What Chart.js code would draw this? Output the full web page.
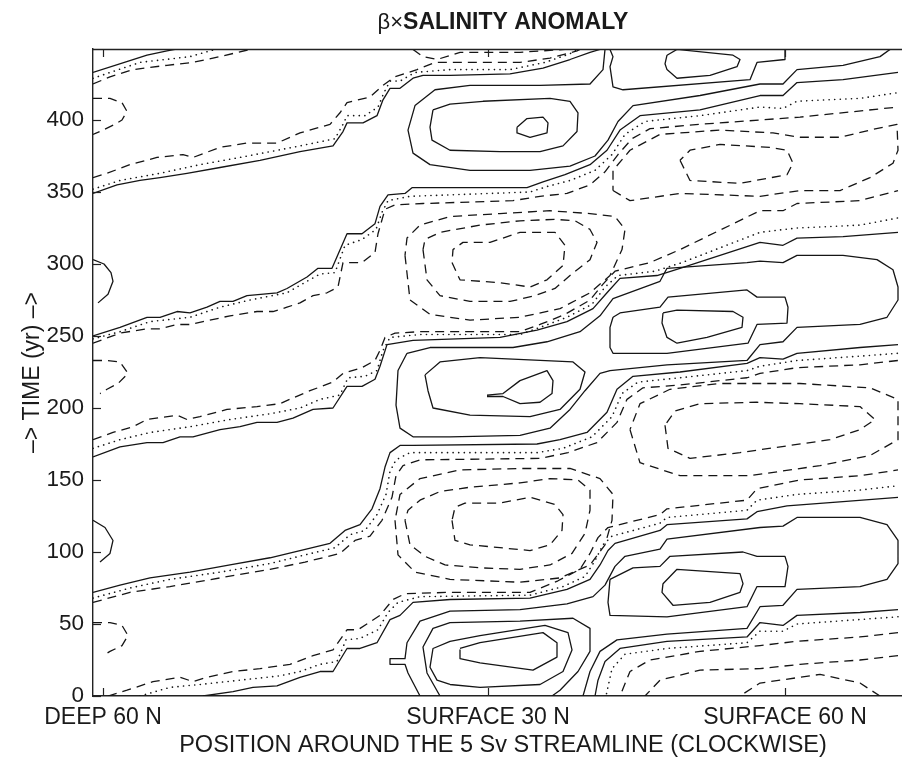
<!DOCTYPE html>
<html><head><meta charset="utf-8">
<script src="https://cdn.jsdelivr.net/npm/chart.js@4.4.1/dist/chart.umd.min.js"></script>
<style>
html,body{margin:0;padding:0;overflow:hidden;background:#fff;width:902px;height:758px}
#wrap{position:relative;width:925px;height:758px}
</style></head>
<body><div id="wrap"><canvas id="c" width="925" height="758"></canvas></div>
<script>
// ---- axis data ----
const yTickValues = [0, 50, 100, 150, 200, 250, 300, 350, 400];
const yRange = [0, 449.3];
const xRange = [0, 820];           // position index along the streamline
const xTickPos = [10, 395, 692];
const xTickLabels = ['DEEP 60 N', 'SURFACE 30 N', 'SURFACE 60 N'];

// ---- contour lines: [position, year] ----
// bottom period
const p0Dash1 = [[15,0],[34,4],[60,10],[87,13],[100,10],[114,13],[140,17],[167,19],[197,22],[220,28],[240,32],[254,46],[265,46],[287,56],[300,67],[312,71],[357,72],[437,72],[465,80],[487,88],[497,99],[505,110],[515,117],[567,126],[574,130],[654,136],[664,144],[707,150],[767,153],[805,157]];
const p0Zero = [[47,0],[77,6],[107,8],[147,11],[187,14],[207,17],[227,22],[244,24],[253,39],[267,40],[285,46],[295,58],[305,65],[327,69],[437,70],[470,76],[492,83],[502,94],[510,105],[519,111],[567,120],[574,124],[654,129],[664,136],[704,140],[767,143],[805,146]];
const p0Pos1 = [[110,0],[140,3],[160,6],[184,7],[207,13],[227,17],[240,17],[254,33],[267,33],[284,37],[297,53],[307,56],[320,65],[357,67],[437,68],[474,74],[497,81],[507,91],[515,101],[522,106],[567,115],[574,119],[654,123],[664,128],[694,132],[750,135],[805,138]];
const p0Pos2 = [[327,0],[315,16],[312,22],[297,22],[297,26],[312,26],[314,37],[327,52],[357,59],[427,60],[474,64],[500,69],[512,77],[522,90],[532,97],[567,102],[574,109],[667,117],[690,118],[704,124],[767,124],[794,119],[805,108],[805,92],[794,81],[767,76],[704,74],[690,63],[667,62],[654,47],[574,43],[524,39],[507,31],[497,17],[490,0]];
const p0Cell30a = [[347,0],[334,16],[330,34],[340,47],[357,51],[427,52],[480,54],[497,47],[497,31],[485,17],[467,4],[459,0]];
const p0Cell30b = [[357,8],[344,11],[337,20],[340,33],[357,38],[387,42],[452,49],[475,44],[479,32],[470,17],[447,8],[387,6],[357,8]];
const p0Cell30c = [[367,32],[367,26],[387,23],[440,18],[464,27],[464,37],[450,44],[387,37],[367,33]];
const p0Cell60a = [[517,81],[540,89],[567,90],[577,97],[650,100],[664,97],[692,97],[695,90],[692,76],[664,76],[654,62],[574,55],[517,56],[515,65],[517,81]];
const p0Cell60b = [[570,78],[584,88],[647,85],[650,78],[647,72],[617,65],[580,63],[569,72],[570,78]];
const p0Pos1Low = [[805,60],[767,58],[704,56],[690,49],[667,51],[654,41],[574,38],[527,33],[512,24],[505,11],[502,0]];
const p0ZeroLow = [[805,55],[704,50],[690,45],[667,45],[654,37],[574,33],[532,29],[519,19],[513,0]];
const p0NegLow1 = [[805,44],[767,41],[704,38],[667,35],[607,31],[557,25],[537,17],[527,0]];
const p0NegLow2 = [[805,28],[767,25],[707,22],[667,19],[607,18],[567,11],[552,0]];
const p0NegLow3 = [[787,0],[767,9],[727,15],[667,9],[647,0]];
const edgeArc50 = [[0,51],[17,51],[29,49],[35,42],[29,35],[17,31],[10,28]];
const neg30a = [[359,122],[362,108],[377,105],[407,103],[437,101],[457,105],[469,115],[470,126],[462,133],[437,138],[407,134],[372,134],[362,131],[359,122]];
const neg30b = [[312,122],[317,105],[332,97],[352,91],[387,89],[427,88],[457,91],[479,99],[492,113],[497,129],[497,143],[485,150],[457,151],[427,148],[377,145],[347,142],[327,136],[315,129],[312,122]];
const neg30c = [[302,122],[305,98],[322,86],[357,81],[427,79],[467,82],[497,91],[512,105],[519,122],[520,140],[507,151],[477,158],[427,158],[367,157],[327,151],[307,140],[302,122]];
const neg60a = [[572,188],[575,172],[597,165],[647,169],[697,174],[737,178],[767,185],[782,192],[767,201],[707,203],[664,204],[607,203],[582,198],[572,188]];
const neg60b = [[537,185],[547,162],[587,153],[657,153],[727,160],[777,167],[805,178],[805,206],[777,214],[707,217],[627,217],[577,213],[547,203],[537,185]];

// middle period
const p1PosUp = [[0,166],[27,173],[54,176],[70,176],[87,180],[100,180],[127,185],[147,187],[164,190],[184,190],[200,193],[220,199],[240,200],[254,215],[269,215],[282,220],[287,229],[294,244],[320,247],[407,249],[444,254],[474,260],[500,269],[514,280],[527,290],[564,292],[587,297],[667,315],[690,313],[704,318],[750,319],[805,322]];
const p1ZeroUp = [[0,172],[27,178],[57,183],[97,187],[137,192],[177,196],[207,200],[227,206],[247,209],[255,221],[272,222],[284,226],[290,240],[297,249],[327,251],[427,251],[447,256],[474,263],[499,272],[512,284],[525,292],[562,295],[589,301],[667,322],[704,325],[767,327],[805,332]];
const p1NegUp = [[0,178],[20,183],[40,187],[54,192],[84,195],[94,192],[107,194],[134,199],[164,201],[187,203],[200,207],[217,212],[240,218],[250,224],[269,228],[282,233],[287,240],[292,249],[302,252],[327,253],[427,253],[447,258],[472,265],[497,275],[510,286],[522,295],[557,301],[587,310],[667,337],[690,337],[704,342],[767,344],[805,351]];
const p1PosLow = [[0,72],[27,77],[57,82],[97,86],[137,91],[177,96],[207,101],[237,106],[252,115],[267,119],[279,130],[287,144],[292,159],[297,169],[307,174],[320,174],[444,175],[467,178],[494,183],[514,197],[524,213],[540,222],[587,225],[654,231],[667,235],[690,234],[704,238],[767,242],[805,244]];
const p1ZeroLow = [[0,68],[37,75],[77,81],[127,86],[177,92],[212,98],[242,103],[257,112],[272,115],[284,126],[293,140],[297,156],[303,164],[317,169],[444,169],[470,172],[499,180],[519,194],[529,210],[545,218],[587,221],[654,226],[667,229],[704,233],[767,236],[805,238]];
const p1NegLow = [[0,65],[37,72],[77,76],[127,82],[177,88],[212,93],[247,99],[262,108],[277,111],[289,122],[299,138],[303,153],[310,160],[327,164],[447,165],[475,169],[504,176],[524,190],[534,206],[550,214],[587,216],[654,221],[667,224],[704,228],[767,230],[805,233]];
const edgeArc110 = [[0,122],[12,117],[20,108],[17,99],[7,93]];
const p1Pos2 = [[314,238],[337,242],[420,242],[454,246],[487,253],[507,264],[520,276],[567,288],[574,297],[654,301],[667,302],[690,301],[704,306],[750,306],[784,303],[800,296],[805,284],[805,275],[794,263],[767,258],[704,256],[690,246],[667,244],[654,233],[574,230],[517,226],[507,224],[492,212],[477,199],[457,186],[427,181],[357,180],[320,180],[307,186],[303,202],[305,226],[314,238]];
const p1Cell30a = [[332,223],[347,232],[387,235],[480,232],[492,225],[487,213],[467,199],[437,194],[377,195],[340,200],[335,212],[332,223]];
const p1Cell30b = [[394,209],[410,210],[427,219],[454,226],[460,219],[459,210],[447,204],[427,203],[410,208],[394,208]];
const p1Cell60a = [[520,263],[527,266],[567,270],[575,277],[654,282],[664,277],[692,277],[695,270],[694,259],[664,258],[655,245],[574,238],[520,238],[517,242],[517,256],[520,263]];
const p1Cell60b = [[570,266],[584,268],[640,267],[650,263],[649,256],[614,249],[584,245],[574,249],[569,259],[570,266]];
const edgeArc225 = [[0,233],[14,233],[27,232],[35,224],[25,217],[14,213],[7,210]];
const neg30d = [[359,301],[367,289],[387,288],[407,287],[437,284],[454,289],[470,299],[472,313],[462,322],[427,322],[397,315],[370,315],[360,310],[359,301]];
const neg30e = [[330,310],[334,289],[347,278],[377,274],[417,274],[442,278],[462,283],[477,292],[497,303],[504,315],[497,324],[482,330],[462,331],[427,330],[387,327],[347,322],[332,317],[330,310]];
const neg30f = [[312,306],[317,275],[337,265],[377,261],[427,263],[467,269],[497,280],[517,292],[529,310],[532,324],[522,333],[497,335],[457,337],[407,335],[357,333],[327,327],[314,318],[312,306]];
const neg60c = [[587,372],[597,358],[647,356],[694,362],[700,370],[694,379],[677,381],[627,383],[597,379],[587,372]];
const neg60d = [[520,351],[537,344],[587,349],[667,347],[707,351],[747,351],[777,360],[800,370],[805,379],[804,397],[777,393],[747,388],[707,388],[680,391],[627,393],[567,390],[537,379],[520,365],[520,351]];

// top period
const p2PosUp = [[0,349],[24,355],[47,358],[67,360],[94,363],[127,367],[167,372],[207,378],[240,382],[250,392],[254,398],[270,398],[284,403],[290,414],[297,422],[307,422],[320,429],[330,431],[357,431],[417,432],[450,436],[477,442],[497,447],[507,449]];
const p2ZeroUp = [[0,352],[27,358],[67,363],[107,369],[147,374],[207,382],[242,387],[250,397],[254,403],[272,403],[285,409],[291,419],[297,427],[307,427],[322,433],[357,435],[417,435],[452,440],[477,446],[485,449]];
const p2NegUp = [[0,360],[14,363],[37,369],[64,374],[90,376],[100,374],[127,381],[154,384],[184,384],[207,391],[237,397],[247,405],[254,412],[277,416],[290,424],[302,430],[324,435],[342,440],[357,440],[427,440],[457,443],[484,448],[487,449]];
const p2NegUp2 = [[320,449],[330,444],[344,442],[367,447],[427,447],[472,449]];
const p2PosLow = [[0,250],[27,256],[54,263],[67,263],[84,267],[97,266],[114,270],[127,274],[140,274],[154,278],[184,280],[194,283],[214,291],[225,297],[239,297],[254,321],[269,321],[282,328],[287,340],[295,348],[312,349],[319,353],[434,353],[450,357],[472,362],[497,369],[514,379],[527,393],[547,403],[607,407],[667,417],[690,417],[704,426],[750,428],[805,433]];
const p2ZeroLow = [[0,248],[27,253],[57,260],[97,263],[127,270],[157,275],[194,280],[214,288],[227,293],[242,294],[252,313],[269,317],[283,324],[289,336],[295,344],[317,347],[437,350],[455,354],[477,358],[502,365],[519,376],[532,390],[552,399],[607,403],[667,409],[690,408],[704,413],[767,415],[805,419]];
const p2NegLow = [[0,245],[27,252],[54,255],[67,255],[84,258],[97,258],[110,260],[137,264],[164,267],[180,267],[194,270],[207,273],[220,278],[234,280],[245,284],[250,301],[269,301],[282,308],[285,321],[292,338],[302,341],[330,342],[420,344],[447,347],[474,349],[497,355],[512,364],[525,376],[539,387],[557,394],[607,397],[667,400],[707,402],[805,409]];
const p2Pos2 = [[512,449],[510,435],[497,425],[447,424],[377,424],[342,421],[322,410],[315,393],[320,377],[337,369],[377,365],[437,365],[477,368],[502,375],[515,386],[525,399],[540,410],[607,417],[667,425],[690,425],[704,435],[750,438],[787,444],[797,449]];
const p2Pos3 = [[517,449],[520,444],[517,437],[520,423],[530,421],[657,428],[664,440],[692,442],[692,449]];
const p2Cell60 = [[574,445],[584,449],[640,445],[647,442],[644,437],[617,431],[584,429],[574,435],[572,439],[574,445]];
const p2Cell30a = [[340,407],[357,411],[390,413],[457,415],[477,413],[485,405],[484,392],[470,382],[447,378],[407,378],[357,379],[339,386],[337,395],[340,407]];
const p2Cell30b = [[424,395],[434,401],[450,402],[455,398],[454,391],[437,388],[424,391],[424,395]];
const edgeArc290 = [[0,303],[11,300],[18,294],[20,288],[15,279],[5,273]];
const edgeArc400 = [[0,415],[17,415],[29,412],[34,406],[29,400],[22,397],[10,393],[0,390]];
const topLeftPos = [[0,433],[40,442],[54,445],[74,448],[82,449]];
const topLeftZero = [[0,429],[47,440],[97,444],[122,449]];
const topLeftNeg = [[0,425],[17,430],[40,435],[74,438],[100,440],[127,444],[157,449]];

const solidSet = [p0Pos1,p0Pos2,p0Cell30a,p0Cell30b,p0Cell30c,p0Cell60a,p0Cell60b,p0Pos1Low,
  p1PosUp,p1PosLow,edgeArc110,p1Pos2,p1Cell30a,p1Cell30b,p1Cell60a,p1Cell60b,
  p2PosUp,p2PosLow,p2Pos2,p2Pos3,p2Cell60,p2Cell30a,p2Cell30b,edgeArc290,topLeftPos];
const zeroSet = [p0Zero,p0ZeroLow,p1ZeroUp,p1ZeroLow,p2ZeroUp,p2ZeroLow,topLeftZero];
const dashSet = [p0Dash1,p0NegLow1,p0NegLow2,p0NegLow3,edgeArc50,neg30a,neg30b,neg30c,neg60a,neg60b,
  p1NegUp,p1NegLow,edgeArc225,neg30d,neg30e,neg30f,neg60c,neg60d,
  p2NegUp,p2NegUp2,p2NegLow,edgeArc400,topLeftNeg];

const INK = '#151515';
const FONT = '"Liberation Sans", Arial, Helvetica, sans-serif';
function mk(data, kind) {
  return {
    data, showLine: true, fill: false, tension: 0, pointRadius: 0, pointHoverRadius: 0,
    borderColor: INK, borderWidth: kind === 'dot' ? 1.6 : 1.3,
    borderDash: kind === 'dash' ? [9, 6] : (kind === 'dot' ? [0.1, 5.5] : []),
    borderCapStyle: kind === 'dot' ? 'round' : 'butt',
    borderJoinStyle: 'round'
  };
}
const datasets = [];
solidSet.forEach(d => datasets.push(mk(d, 'solid')));
zeroSet.forEach(d => datasets.push(mk(d, 'dot')));
dashSet.forEach(d => datasets.push(mk(d, 'dash')));

const decor = {
  id: 'decor',
  afterDraw(chart) {
    const {ctx, chartArea: a, scales} = chart;
    ctx.save();
    ctx.strokeStyle = '#222';
    ctx.lineWidth = 1.4;
    ctx.beginPath(); ctx.moveTo(a.left, a.top + 0.5); ctx.lineTo(a.right, a.top + 0.5); ctx.stroke();
    ctx.lineWidth = 1.2;
    yTickValues.forEach(v => {
      const y = Math.round(scales.y.getPixelForValue(v)) + 0.5;
      ctx.beginPath(); ctx.moveTo(a.left, y); ctx.lineTo(a.left + 8, y); ctx.stroke();
    });
    xTickPos.forEach(v => {
      const x = Math.round(scales.x.getPixelForValue(v)) + 0.5;
      ctx.beginPath(); ctx.moveTo(x, a.bottom); ctx.lineTo(x, a.bottom - 8); ctx.stroke();
      ctx.beginPath(); ctx.moveTo(x, a.top); ctx.lineTo(x, a.top + 8); ctx.stroke();
    });
    ctx.fillStyle = '#1a1a1a';
    ctx.textBaseline = 'alphabetic';
    const cx = (a.left + a.right) / 2;
    const p1 = 'β×', p2 = 'SALINITY ANOMALY';
    ctx.font = '22px ' + FONT;
    const w1 = ctx.measureText(p1).width;
    ctx.font = 'bold 23px ' + FONT;
    const w2 = ctx.measureText(p2).width;
    const sx = cx - (w1 + w2) / 2;
    ctx.font = '22px ' + FONT;
    ctx.textAlign = 'left';
    ctx.fillText(p1, sx, 29);
    ctx.font = 'bold 23px ' + FONT;
    ctx.fillText(p2, sx + w1, 29);
    ctx.font = '23.5px ' + FONT;
    ctx.textAlign = 'center';
    ctx.fillText('POSITION AROUND THE 5 Sv STREAMLINE (CLOCKWISE)', cx, 752);
    ctx.save();
    ctx.translate(39, (a.top + a.bottom) / 2);
    ctx.rotate(-Math.PI / 2);
    ctx.font = '23px ' + FONT;
    ctx.fillText('\u2013> TIME (yr) \u2013>', 0, 0);
    ctx.restore();
    ctx.restore();
  }
};

new Chart(document.getElementById('c'), {
  type: 'scatter',
  data: { datasets },
  options: {
    responsive: false, animation: false, devicePixelRatio: 1,
    layout: { padding: { top: 49, right: 12, left: 0, bottom: 0 } },
    plugins: { legend: { display: false }, tooltip: { enabled: false }, title: { display: false } },
    scales: {
      x: {
        type: 'linear', position: 'bottom', min: xRange[0], max: xRange[1],
        grid: { display: false, drawTicks: false },
        border: { display: true, color: '#222', width: 1.4 },
        afterBuildTicks: s => { s.ticks = xTickPos.map(v => ({ value: v })); },
        afterFit: s => { s.height = 62; },
        ticks: { autoSkip: false, maxRotation: 0, padding: 8, color: '#1a1a1a',
          font: { family: FONT, size: 23 },
          callback: (v, i) => xTickLabels[i] }
      },
      y: {
        type: 'linear', position: 'left', min: yRange[0], max: yRange[1],
        grid: { display: false, drawTicks: false },
        border: { display: true, color: '#222', width: 1.4 },
        afterBuildTicks: s => { s.ticks = yTickValues.map(v => ({ value: v })); },
        afterFit: s => { s.width = 93; },
        ticks: { padding: 9, color: '#1a1a1a', font: { family: FONT, size: 22.5 },
          callback: v => String(v) }
      }
    }
  },
  plugins: [decor]
});
</script>
</body></html>
